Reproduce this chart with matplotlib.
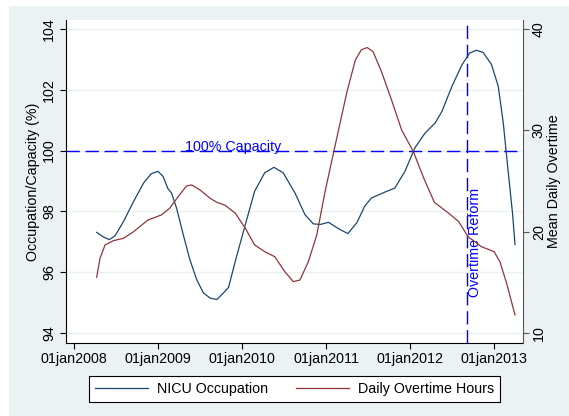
import matplotlib.pyplot as plt
from matplotlib.patches import Rectangle
from matplotlib.lines import Line2D

# NICU occupation (left axis, % of capacity)
nicu_year = [2008.27, 2008.35, 2008.42, 2008.49, 2008.59, 2008.71, 2008.83,
             2008.92, 2009.00, 2009.06, 2009.12, 2009.16, 2009.22, 2009.30,
             2009.38, 2009.46, 2009.54, 2009.62, 2009.70, 2009.78, 2009.84,
             2009.92, 2010.04, 2010.15, 2010.27, 2010.38, 2010.49, 2010.63,
             2010.75, 2010.85, 2010.93, 2011.03, 2011.15, 2011.26, 2011.37,
             2011.46, 2011.54, 2011.68, 2011.82, 2011.94, 2012.06, 2012.18,
             2012.30, 2012.38, 2012.50, 2012.62, 2012.71, 2012.79, 2012.87,
             2012.97, 2013.05, 2013.11, 2013.17, 2013.22, 2013.25]
nicu_occ = [97.31, 97.16, 97.07, 97.20, 97.67, 98.33, 98.94,
            99.24, 99.32, 99.15, 98.74, 98.61, 98.12, 97.24,
            96.41, 95.76, 95.32, 95.15, 95.10, 95.32, 95.50,
            96.36, 97.57, 98.66, 99.27, 99.45, 99.27, 98.61,
            97.89, 97.59, 97.57, 97.64, 97.43, 97.27, 97.64,
            98.17, 98.44, 98.61, 98.77, 99.32, 100.10, 100.58,
            100.91, 101.29, 102.12, 102.83, 103.21, 103.30, 103.23,
            102.83, 102.12, 100.91, 99.27, 97.95, 96.91]

# mean daily overtime hours (right axis)
ot_year = [2008.27, 2008.31, 2008.37, 2008.47, 2008.59, 2008.71, 2008.88,
           2009.04, 2009.14, 2009.24, 2009.34, 2009.40, 2009.50, 2009.62,
           2009.70, 2009.80, 2009.92, 2010.04, 2010.15, 2010.27, 2010.39,
           2010.51, 2010.61, 2010.69, 2010.79, 2010.89, 2010.99, 2011.11,
           2011.25, 2011.35, 2011.42, 2011.49, 2011.56, 2011.66, 2011.78,
           2011.90, 2012.04, 2012.16, 2012.29, 2012.46, 2012.58, 2012.69,
           2012.85, 2013.00, 2013.07, 2013.15, 2013.25]
ot_hours = [15.50, 17.37, 18.69, 19.11, 19.35, 20.00, 21.15,
            21.65, 22.31, 23.46, 24.51, 24.61, 24.12, 23.30,
            22.90, 22.60, 21.82, 20.34, 18.69, 18.03, 17.53,
            16.05, 15.07, 15.23, 17.04, 19.67, 24.00, 28.56,
            33.82, 36.95, 37.94, 38.17, 37.77, 35.80, 33.00,
            30.04, 27.90, 25.35, 22.90, 21.82, 20.99, 19.51,
            18.52, 18.03, 17.04, 14.91, 11.78]

capacity = 100
reform_year = 2012.674  # ~01sep2012
year_ticks = [2008, 2009, 2010, 2011, 2012, 2013]
year_labels = ['01jan%d' % y for y in year_ticks]
left_ticks = [94, 96, 98, 100, 102, 104]
right_ticks = [10, 20, 30, 40]

BG = '#eaf2f3'
NAVY = '#1a476f'
MAROON = '#90353b'
FS = 10.3

plt.rcParams['font.family'] = ['Liberation Sans', 'DejaVu Sans']
plt.rcParams['font.size'] = FS

W, H = 569, 416
fig = plt.figure(figsize=(W / 100, H / 100), dpi=100)
fig.patch.set_facecolor('white')
fig.patches.append(Rectangle((9 / W, 0), 1 - 9 / W, (H - 6) / H,
                             transform=fig.transFigure, facecolor=BG,
                             edgecolor='none', zorder=-10))

ax = fig.add_axes([66 / W, 1 - 343 / H, (523 - 66) / W, (343 - 20) / H])
ax.set_facecolor('white')
ax2 = ax.twinx()

ax.plot(nicu_year, nicu_occ, color=NAVY, lw=0.9, zorder=3)
ax2.plot(ot_year, ot_hours, color=MAROON, lw=0.9, zorder=3)

dash = (0, (9.6, 4.1))
ax.axhline(capacity, color='blue', lw=1.0, ls=dash, zorder=2)
ax.axvline(reform_year, color='blue', lw=1.0, ls=dash, zorder=2)
ax.text(2009.89, capacity, '100% Capacity', color='blue', ha='center',
        va='baseline', fontsize=FS)
ax.annotate('Overtime Reform', (reform_year, 95.2), xytext=(1.2, 0),
            textcoords='offset points', rotation=90, color='blue',
            ha='left', va='bottom', fontsize=FS)

ax.set_xlim(2007.905, 2013.345)
ax.set_ylim(93.671, 104.296)
ax2.set_ylim(9.013, 40.888)

ax.set_xticks(year_ticks)
ax.set_xticklabels(year_labels)
ax.set_yticks(left_ticks)
ax2.set_yticks(right_ticks)
ax.grid(axis='y', color=BG, lw=1.0)
ax.set_axisbelow(True)

for s in ['top', 'right']:
    ax.spines[s].set_visible(False)
for s in ['top', 'left', 'bottom']:
    ax2.spines[s].set_visible(False)
ax.spines['left'].set_color('black')
ax.spines['bottom'].set_color('black')
ax2.spines['right'].set_color('#555555')
for s in [ax.spines['left'], ax.spines['bottom'], ax2.spines['right']]:
    s.set_linewidth(0.8)

ax.tick_params(axis='x', direction='out', length=4.3, width=0.8, pad=2.2,
               labelsize=FS)
ax.tick_params(axis='y', direction='out', length=4.3, width=0.8, pad=2.9,
               labelsize=FS)
ax2.tick_params(axis='y', direction='out', length=4.3, width=0.8, pad=2.0,
                labelsize=FS, color='#555555')
for lab in ax.get_yticklabels():
    lab.set_rotation(90)
    lab.set_va('center')
    lab.set_ha('right')
for lab in ax2.get_yticklabels():
    lab.set_rotation(90)
    lab.set_va('center')
    lab.set_ha('left')

ax.set_ylabel('Occupation/Capacity (%)', fontsize=FS)
ax2.set_ylabel('Mean Daily Overtime', fontsize=FS)
ax.yaxis.set_label_coords((33.5 - 66) / 457, 0.5)
ax2.yaxis.set_label_coords((554 - 66) / 457, 0.5)
for lab in [ax.yaxis.label, ax2.yaxis.label]:
    lab.set_va('center')
    lab.set_ha('center')

handles = [Line2D([], [], color=NAVY, lw=0.9),
           Line2D([], [], color=MAROON, lw=0.9)]
leg = fig.legend(handles, ['NICU Occupation', 'Daily Overtime Hours'],
                 loc='center', bbox_to_anchor=(294.5 / W, 1 - 389 / H), ncol=2,
                 frameon=True, fancybox=False, framealpha=1,
                 handlelength=3.7, handletextpad=0.6, columnspacing=2.0,
                 borderpad=0.45, fontsize=FS)
leg.get_frame().set_edgecolor('black')
leg.get_frame().set_linewidth(0.8)

fig.savefig('out.png', dpi=100)
